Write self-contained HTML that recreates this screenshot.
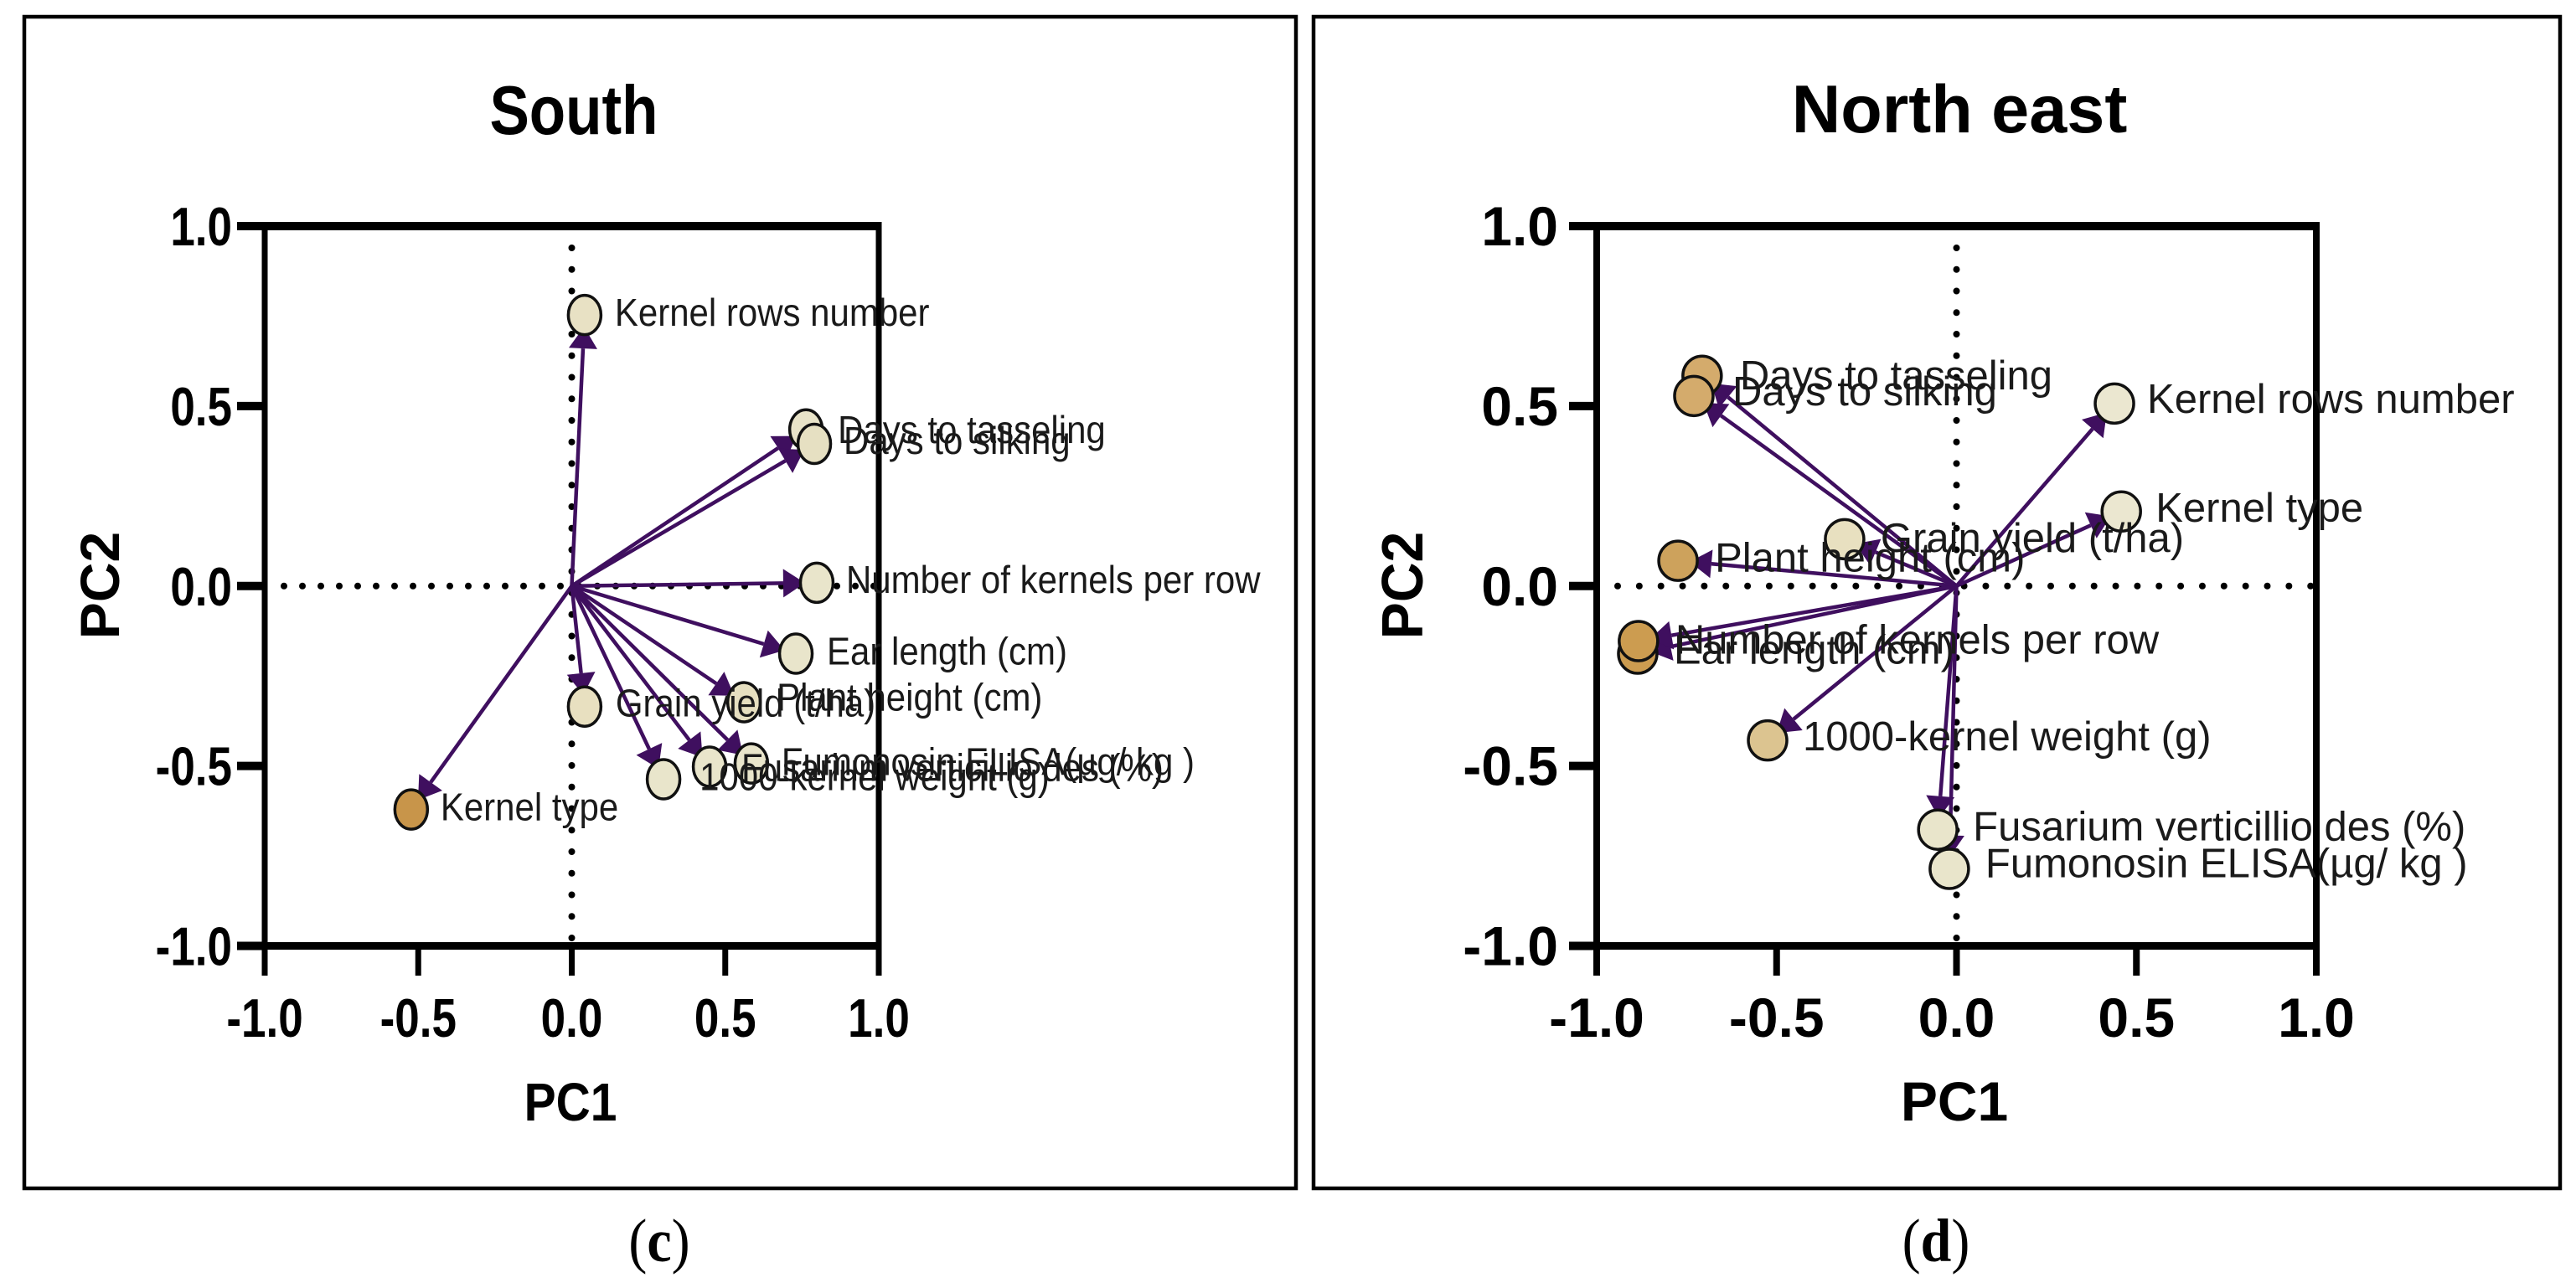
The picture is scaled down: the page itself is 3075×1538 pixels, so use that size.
<!DOCTYPE html>
<html lang="en">
<head>
<meta charset="utf-8">
<title>PCA biplots: South and North east</title>
<style>
html,body{margin:0;padding:0;background:#fff;}
svg{display:block;}
text{font-family:"Liberation Sans",Arial,sans-serif;}
.cap{font-family:"Liberation Serif","Times New Roman",serif;}
</style>
</head>
<body>
<svg id="figure" xmlns="http://www.w3.org/2000/svg" width="3075" height="1538" viewBox="0 0 3075 1538">
  <rect x="0" y="0" width="3075" height="1538" fill="#fff"/>
  <rect x="29" y="20" width="1518" height="1399" fill="none" stroke="#000" stroke-width="4.5"/>
  <rect x="1568" y="20" width="1488" height="1399" fill="none" stroke="#000" stroke-width="4.5"/>
  <text class="cap" text-anchor="middle" transform="translate(787,1506) scale(1,1.1)" font-size="66" fill="#000">(<tspan font-weight="bold">c</tspan>)</text>
  <text class="cap" text-anchor="middle" transform="translate(2311,1506) scale(1,1.1)" font-size="66" fill="#000">(<tspan font-weight="bold">d</tspan>)</text>
</svg>
<script>
const tickValues = [-1, -0.5, 0, 0.5, 1];
const tickLabels = ['-1.0', '-0.5', '0.0', '0.5', '1.0'];

const southVariables = ['Kernel rows number', 'Days to tasseling', 'Days to silking', 'Number of kernels per row', 'Ear length (cm)', 'Plant height (cm)', 'Grain yield (t/ha)', 'Fumonosin ELISA(µg/ kg )', 'Fusarium verticillio des (%)', '1000-kernel weight (g)', 'Kernel type'];
const southPC1 = [0.042, 0.763, 0.790, 0.798, 0.730, 0.561, 0.042, 0.585, 0.449, 0.299, -0.523];
const southPC2 = [0.753, 0.435, 0.395, 0.009, -0.188, -0.323, -0.335, -0.493, -0.502, -0.537, -0.621];
const southFills = ['#e8e1c4', '#e8e3c8', '#e6e0c2', '#e9e5cb', '#e9e5cb', '#e6dfc0', '#e8e0c0', '#e9e5cb', '#e9e5cb', '#e9e5cb', '#c8954a'];
const southLabelShiftX = [36, 38, 35, 35, 37, 39, 37, 36, 38, 43, 35];
const southLabelShiftY = [13, 16, 12, 12, 13, 10, 12, 14, 17, 13, 13];

const northEastVariables = ['Days to tasseling', 'Days to silking', 'Grain yield (t/ha)', 'Plant height (cm)', 'Ear length (cm)', 'Number of kernels per row', '1000-kernel weight (g)', 'Fusarium verticillio des (%)', 'Fumonosin ELISA(µg/ kg )', 'Kernel rows number', 'Kernel type'];
const northEastPC1 = [-0.707, -0.730, -0.311, -0.774, -0.886, -0.884, -0.525, -0.052, -0.020, 0.439, 0.458];
const northEastPC2 = [0.584, 0.528, 0.130, 0.070, -0.188, -0.153, -0.429, -0.677, -0.786, 0.507, 0.207];
const northEastFills = ['#d4ab6c', '#d4ab6c', '#e8e0c0', '#cda25c', '#cc9c50', '#cc9c50', '#dcc490', '#e9e5cb', '#e9e5cb', '#ebe7d0', '#ebe7d0'];
const northEastLabelShiftX = [45, 46, 43, 44, 43, 44, 42, 42, 43, 39, 41];
const northEastLabelShiftY = [16, 11, 15, 13, 12, 15, 12, 13, 10, 11, 12];

const panels = [
  {id: 'south', title: 'South', names: southVariables, pc1: southPC1, pc2: southPC2, fills: southFills, shiftX: southLabelShiftX, shiftY: southLabelShiftY,
   left: 316, right: 1049, axisW: 7, rx: 19.5, ry: 23.5, labelSize: 42, labelStretch: 1.1, tickSize: 53, tickStretch: 1.22,
   tickRight: 277, tickStart: 283, titleX: 685, titleY: 160, titleSize: 71, titleStretch: 1.16, pc1X: 681, pc1Size: 57, pc1Stretch: 1.13,
   pc2X: 142, pc2Size: 66, pc2Stretch: 1.0, hStart: 339, hEnd: 1044, hGap: 22},
  {id: 'north-east', title: 'North east', names: northEastVariables, pc1: northEastPC1, pc2: northEastPC2, fills: northEastFills, shiftX: northEastLabelShiftX, shiftY: northEastLabelShiftY,
   left: 1906, right: 2765, axisW: 8, rx: 23, ry: 23.5, labelSize: 49, labelStretch: 1, tickSize: 66, tickStretch: 1,
   tickRight: 1860, tickStart: 1873, titleX: 2339, titleY: 158, titleSize: 81, titleStretch: 1, pc1X: 2333, pc1Size: 66, pc1Stretch: 1,
   pc2X: 1698, pc2Size: 66, pc2Stretch: 1.05, hStart: 1931, hEnd: 2760, hGap: 25.85}
];

const NS = 'http://www.w3.org/2000/svg';
const root = document.getElementById('figure');
const plotTop = 270;
const plotBottom = 1129.5;

function yScale(v) {
  return plotBottom - (v + 1) / 2 * (plotBottom - plotTop);
}

function make(parent, tag, attrs) {
  const el = document.createElementNS(NS, tag);
  for (const k in attrs) el.setAttribute(k, attrs[k]);
  parent.appendChild(el);
  return el;
}

function drawPanel(p) {
  const xScale = function (v) {
    return p.left + (v + 1) / 2 * (p.right - p.left);
  };
  const g = make(root, 'g', {});
  
  

  const title = make(g, 'text', {'text-anchor': 'middle', 'font-weight': 'bold', 'font-size': p.titleSize, fill: '#000',
    transform: 'translate(' + p.titleX + ',' + p.titleY + ') scale(1,' + p.titleStretch + ')'});
  title.textContent = p.title;
  
  

  const frame = make(g, 'g', {stroke: '#000', fill: 'none'});
  
  

  make(frame, 'line', {x1: p.left, x2: p.left, y1: plotTop - 5, y2: 1165, 'stroke-width': p.axisW});
  make(frame, 'line', {x1: p.right, x2: p.right, y1: plotTop - 5, y2: 1165, 'stroke-width': p.axisW});
  make(frame, 'line', {x1: p.left, x2: p.right + p.axisW / 2, y1: plotTop, y2: plotTop, 'stroke-width': 10});
  make(frame, 'line', {x1: p.left, x2: p.right + p.axisW / 2, y1: plotBottom, y2: plotBottom, 'stroke-width': 9});

  tickValues.forEach(function (v, i) {
    const tx = make(frame, 'line', {x1: xScale(v), x2: xScale(v), y1: plotBottom, y2: 1165, 'stroke-width': p.axisW});
    
    
    const ty = make(frame, 'line', {x1: p.tickStart, x2: p.left, y1: yScale(v), y2: yScale(v), 'stroke-width': 10});
    
    

    const lx = make(g, 'text', {'text-anchor': 'middle', 'font-weight': 'bold', 'font-size': p.tickSize, fill: '#000',
      transform: 'translate(' + xScale(v) + ',1238) scale(1,' + p.tickStretch + ')'});
    lx.textContent = tickLabels[i];
    
    
    const ly = make(g, 'text', {'text-anchor': 'end', 'font-weight': 'bold', 'font-size': p.tickSize, fill: '#000',
      transform: 'translate(' + p.tickRight + ',' + (yScale(v) + 23) + ') scale(1,' + p.tickStretch + ')'});
    ly.textContent = tickLabels[i];
    
    
  });

  const xt = make(g, 'text', {'text-anchor': 'middle', 'font-weight': 'bold', 'font-size': p.pc1Size, fill: '#000',
    transform: 'translate(' + p.pc1X + ',1338) scale(1,' + p.pc1Stretch + ')'});
  xt.textContent = 'PC1';
  
  
  const yt = make(g, 'text', {'text-anchor': 'middle', 'font-weight': 'bold', 'font-size': p.pc2Size, fill: '#000',
    transform: 'translate(' + p.pc2X + ',699) rotate(-90) scale(1,' + p.pc2Stretch + ')'});
  yt.textContent = 'PC2';
  
  

  const x0 = xScale(0);
  const y0 = yScale(0);
  const hz = make(g, 'line', {x1: p.hStart, x2: p.hEnd, y1: y0, y2: y0, stroke: '#000', 'stroke-width': 8, 'stroke-linecap': 'round', 'stroke-dasharray': '0 ' + p.hGap});
  
  
  const vt = make(g, 'line', {x1: x0, x2: x0, y1: 296, y2: 1125, stroke: '#000', 'stroke-width': 8, 'stroke-linecap': 'round', 'stroke-dasharray': '0 25.75'});
  
  

  const px = p.pc1.map(xScale);
  const py = p.pc2.map(yScale);

  p.names.forEach(function (name, i) {
    const dx = px[i] - x0;
    const dy = py[i] - y0;
    const len = Math.hypot(dx, dy) || 1;
    const ux = dx / len;
    const uy = dy / len;
    const back = len - 40;
    const tip = len - 14;
    const bx = x0 + ux * back;
    const by = y0 + uy * back;
    const arrow = make(g, 'line', {x1: x0, y1: y0, x2: bx, y2: by, stroke: '#3f0f5f', 'stroke-width': 4.5});
    
    
    const hw = 17;
    const pts = [
      (x0 + ux * tip) + ',' + (y0 + uy * tip),
      (bx - uy * hw) + ',' + (by + ux * hw),
      (bx + uy * hw) + ',' + (by - ux * hw)
    ].join(' ');
    const head = make(g, 'polygon', {points: pts, fill: '#3f0f5f'});
    
    
  });

  p.names.forEach(function (name, i) {
    const pt = make(g, 'ellipse', {cx: px[i], cy: py[i], rx: p.rx, ry: p.ry, fill: p.fills[i], stroke: '#111', 'stroke-width': 3.5});
    
    
  });

  p.names.forEach(function (name, i) {
    const t = make(g, 'text', {'font-size': p.labelSize, fill: '#1a1a1a',
      transform: 'translate(' + (px[i] + p.shiftX[i]) + ',' + (py[i] + p.shiftY[i]) + ') scale(1,' + p.labelStretch + ')'});
    t.textContent = name;
    
    
  });
}

panels.forEach(drawPanel);
</script>
</body>
</html>
